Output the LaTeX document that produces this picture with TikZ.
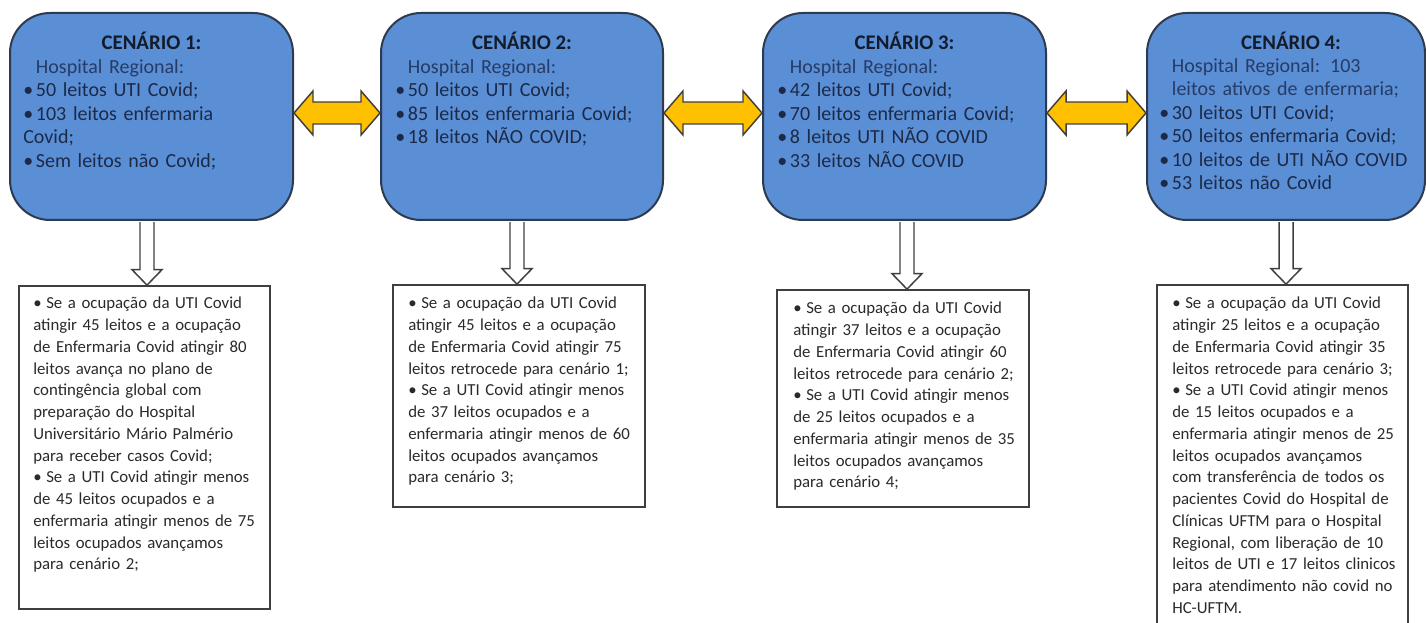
\documentclass[tikz,border=0pt]{standalone}
\usepackage{fontspec}
\setmainfont{Carlito}
\usetikzlibrary{calc}
\definecolor{boxblue}{HTML}{5A8ED5}
\definecolor{bluedraw}{HTML}{2E3A4E}
\definecolor{titlecol}{HTML}{141C2C}
\definecolor{bodycol}{HTML}{1C2A48}
\definecolor{hospcol}{HTML}{263C68}
\definecolor{arrowyellow}{HTML}{FFC000}
\definecolor{linegray}{HTML}{3F3F3F}
\definecolor{wtext}{HTML}{2A2A2A}
\newcommand\bb{\makebox[9.5pt][l]{\textbullet}}
\newcommand\wb{\makebox[9.75pt][l]{\textbullet}}
\newcommand\yarrow[2]{%
  \draw[yarr] let \p1=(#1.east), \p2=(#2.west) in
    (\x1,-84.75pt) -- (\x1+14.25pt,-68.25pt) -- (\x1+14.25pt,-76.5pt)
    -- (\x2-14.25pt,-76.5pt) -- (\x2-14.25pt,-68.25pt) -- (\x2,-84.75pt)
    -- (\x2-14.25pt,-101.25pt) -- (\x2-14.25pt,-93pt)
    -- (\x1+14.25pt,-93pt) -- (\x1+14.25pt,-101.25pt) -- cycle;}
\newcommand\darrow[3]{%
  \draw[warr] let \p1=(#3 |- #1.south), \p2=(#3 |- #2.north) in
    (\x1-5.25pt,\y1-0.8pt) -- (\x1-5.25pt,\y2+11.6pt) -- (\x1-11.25pt,\y2+11.6pt)
    -- (\x1,\y2) -- (\x1+11.25pt,\y2+11.6pt) -- (\x1+5.25pt,\y2+11.6pt)
    -- (\x1+5.25pt,\y1-0.8pt);}
\begin{document}
\begin{tikzpicture}[x=0.75pt,y=-0.75pt,
  bluebox/.style={draw=bluedraw, line width=1.5pt, fill=boxblue, rounded corners=30pt,
    minimum height=155.25pt, inner sep=0pt},
  wbox/.style={draw=linegray, line width=1.3pt, fill=white, inner sep=0pt},
  titletext/.style={anchor=base, inner sep=0pt, text=titlecol,
    font=\fontsize{15.6}{17.55}\selectfont\bfseries},
  bluetext/.style={anchor=base west, inner sep=0pt, text=bodycol, text width=205pt,
    align=left, font=\fontsize{15}{17.55}\selectfont},
  whitetext/.style={anchor=base west, inner sep=0pt, text=wtext, text width=180pt,
    align=left, font=\fontsize{12.6}{16.3}\selectfont},
  yarr/.style={draw=linegray, line width=1.1pt, fill=arrowyellow, line join=miter},
  warr/.style={draw=linegray, line width=1.1pt, fill=white, line join=miter}]
\useasboundingbox (0,0) rectangle (1426,623);
\fill[white] (0,0) rectangle (1426,623);

% scenario boxes
\node[bluebox, minimum width=212.25pt] (b1) at (151.5,116.5) {};
\node[bluebox, minimum width=211.5pt] (b2) at (522,116.5) {};
\node[bluebox, minimum width=212.25pt] (b3) at (904.5,116.5) {};
\node[bluebox, minimum width=208.5pt] (b4) at (1286,116.5) {};

% condition boxes
\node[wbox, minimum width=188.25pt, minimum height=242.25pt] (t1) at (144.5,447.5) {};
\node[wbox, minimum width=189pt, minimum height=166.5pt] (t2) at (519,396) {};
\node[wbox, minimum width=189pt, minimum height=162.75pt] (t3) at (903,398.5) {};
\node[wbox, minimum width=188.25pt, minimum height=281.25pt] (t4) at (1282.5,472.5) {};

% arrow axes
\coordinate (a1) at (147,0);
\coordinate (a2) at (517,0);
\coordinate (a3) at (907,0);
\coordinate (a4) at (1286,0);

% connectors
\yarrow{b1}{b2}
\yarrow{b2}{b3}
\yarrow{b3}{b4}
\darrow{b1}{t1}{a1}
\darrow{b2}{t2}{a2}
\darrow{b3}{t3}{a3}
\darrow{b4}{t4}{a4}

% titles
\node[titletext] (h1) at (151.5,50) {CENÁRIO 1:};
\node[titletext] (h2) at (522,50) {CENÁRIO 2:};
\node[titletext] (h3) at (904.5,50) {CENÁRIO 3:};
\node[titletext] (h4) at (1291,50) {CENÁRIO 4:};

% scenario contents
\node[bluetext] (c1) at (23,73.5) {\hspace*{9.5pt}\textcolor{hospcol}{Hospital Regional:}\\
\bb 50 leitos UTI Covid;\\
\bb 103 leitos enfermaria\\
Covid;\\
\bb Sem leitos não Covid;};
\node[bluetext] (c2) at (395,73.5) {\hspace*{9.5pt}\textcolor{hospcol}{Hospital Regional:}\\
\bb 50 leitos UTI Covid;\\
\bb 85 leitos enfermaria Covid;\\
\bb 18 leitos NÃO COVID;};
\node[bluetext] (c3) at (777,73.5) {\hspace*{9.5pt}\textcolor{hospcol}{Hospital Regional:}\\
\bb 42 leitos UTI Covid;\\
\bb 70 leitos enfermaria Covid;\\
\bb 8 leitos UTI NÃO COVID\\
\bb 33 leitos NÃO COVID};
\node[bluetext] (c4) at (1159,72.5) {\hspace*{9.5pt}\textcolor{hospcol}{Hospital Regional: 103}\\
\hspace*{9.5pt}\textcolor{hospcol}{leitos ativos de enfermaria;}\\
\bb 30 leitos UTI Covid;\\
\bb 50 leitos enfermaria Covid;\\
\bb 10 leitos de UTI NÃO COVID\\
\bb 53 leitos não Covid};

% condition texts
\node[whitetext] (d1) at (33,309) {\wb Se a ocupação da UTI Covid\\
atingir 45 leitos e a ocupação\\
de Enfermaria Covid atingir 80\\
leitos avança no plano de\\
contingência global com\\
preparação do Hospital\\
Universitário Mário Palmério\\
para receber casos Covid;\\
\wb Se a UTI Covid atingir menos\\
de 45 leitos ocupados e a\\
enfermaria atingir menos de 75\\
leitos ocupados avançamos\\
para cenário 2;};
\node[whitetext] (d2) at (408,309) {\wb Se a ocupação da UTI Covid\\
atingir 45 leitos e a ocupação\\
de Enfermaria Covid atingir 75\\
leitos retrocede para cenário 1;\\
\wb Se a UTI Covid atingir menos\\
de 37 leitos ocupados e a\\
enfermaria atingir menos de 60\\
leitos ocupados avançamos\\
para cenário 3;};
\node[whitetext] (d3) at (793,314) {\wb Se a ocupação da UTI Covid\\
atingir 37 leitos e a ocupação\\
de Enfermaria Covid atingir 60\\
leitos retrocede para cenário 2;\\
\wb Se a UTI Covid atingir menos\\
de 25 leitos ocupados e a\\
enfermaria atingir menos de 35\\
leitos ocupados avançamos\\
para cenário 4;};
\node[whitetext] (d4) at (1172,309) {\wb Se a ocupação da UTI Covid\\
atingir 25 leitos e a ocupação\\
de Enfermaria Covid atingir 35\\
leitos retrocede para cenário 3;\\
\wb Se a UTI Covid atingir menos\\
de 15 leitos ocupados e a\\
enfermaria atingir menos de 25\\
leitos ocupados avançamos\\
com transferência de todos os\\
pacientes Covid do Hospital de\\
Clínicas UFTM para o Hospital\\
Regional, com liberação de 10\\
leitos de UTI e 17 leitos clinicos\\
para atendimento não covid no\\
HC-UFTM.};
\end{tikzpicture}
\end{document}
